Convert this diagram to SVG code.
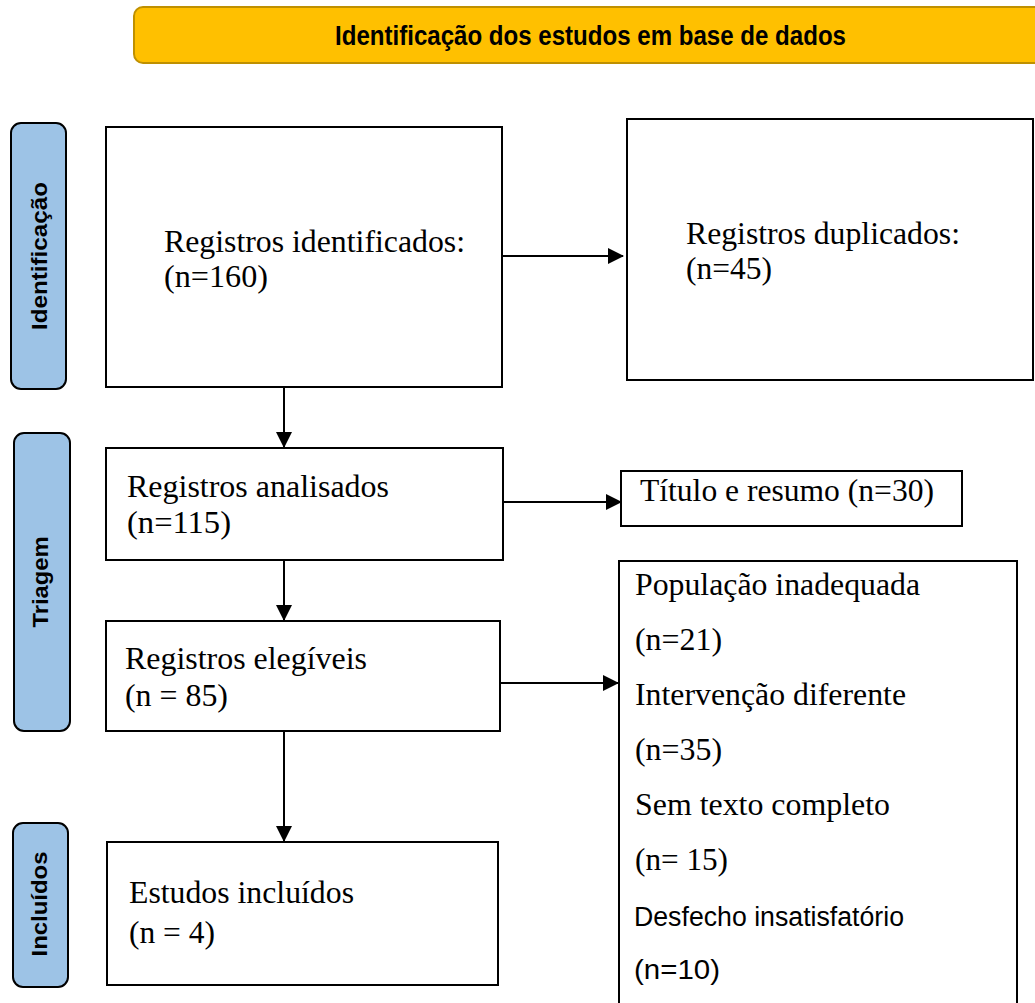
<svg xmlns="http://www.w3.org/2000/svg" width="1035" height="1003" viewBox="0 0 1035 1003">
<defs>
<marker id="ah" markerWidth="16" markerHeight="17" refX="15" refY="8.5" orient="auto" markerUnits="userSpaceOnUse" viewBox="0 0 16 17">
<path d="M0,0.5 L16,8.5 L0,16.5 Z" fill="#000"/>
</marker>
<style>
.box{fill:#fff;stroke:#000;stroke-width:2}
.side{fill:#9DC3E6;stroke:#000;stroke-width:2}
.side-t{font-family:"Liberation Sans",Arial,sans-serif;font-weight:bold;font-size:22px;fill:#000;text-anchor:middle}
.hdr{font-family:"Liberation Sans",Arial,sans-serif;font-weight:bold;font-size:28px;fill:#000}
.t{font-family:"Liberation Serif","Times New Roman",serif;font-size:31px;fill:#000}
.c{font-family:"Liberation Sans",Arial,sans-serif;font-size:27px;fill:#000}
.conn{stroke:#000;stroke-width:2;fill:none;marker-end:url(#ah)}
</style>
</defs>
<rect width="1035" height="1003" fill="#fff"/>
<g id="header">
<rect x="134" y="7" width="920" height="56" rx="9" fill="#FFC000" stroke="#BF9000" stroke-width="2"/>
<text x="335" y="45" class="hdr" textLength="511" lengthAdjust="spacingAndGlyphs">Identificação dos estudos em base de dados</text>
</g>
<g id="lbl-identificacao">
<rect x="11" y="123" width="55" height="266" rx="10" class="side"/>
<text transform="translate(47,256) rotate(-90)" class="side-t" textLength="148" lengthAdjust="spacingAndGlyphs">Identificação</text>
</g>
<g id="lbl-triagem">
<rect x="14" y="433" width="56" height="298" rx="10" class="side"/>
<text transform="translate(48,582) rotate(-90)" class="side-t" textLength="91" lengthAdjust="spacingAndGlyphs">Triagem</text>
</g>
<g id="lbl-incluidos">
<rect x="13" y="823" width="55" height="164" rx="10" class="side"/>
<text transform="translate(47,904) rotate(-90)" class="side-t" textLength="105" lengthAdjust="spacingAndGlyphs">Incluídos</text>
</g>
<g id="n-identificados">
<rect x="106" y="127" width="396" height="260" class="box"/>
<text x="164" y="252" class="t" textLength="301" lengthAdjust="spacingAndGlyphs">Registros identificados:</text>
<text x="164" y="287" class="t" textLength="104" lengthAdjust="spacingAndGlyphs">(n=160)</text>
</g>
<g id="n-duplicados">
<rect x="627" y="119" width="406" height="261" class="box"/>
<text x="686" y="244" class="t" textLength="274" lengthAdjust="spacingAndGlyphs">Registros duplicados:</text>
<text x="686" y="279" class="t" textLength="86" lengthAdjust="spacingAndGlyphs">(n=45)</text>
</g>
<g id="n-analisados">
<rect x="106" y="448" width="397" height="112" class="box"/>
<text x="127" y="497" class="t" textLength="262" lengthAdjust="spacingAndGlyphs">Registros analisados</text>
<text x="127" y="533" class="t" textLength="104" lengthAdjust="spacingAndGlyphs">(n=115)</text>
</g>
<g id="n-titulo">
<rect x="621" y="471" width="341" height="55" class="box"/>
<text x="640" y="501" class="t" textLength="294" lengthAdjust="spacingAndGlyphs">Título e resumo (n=30)</text>
</g>
<g id="n-elegiveis">
<rect x="106" y="621" width="394" height="110" class="box"/>
<text x="125" y="669" class="t" textLength="242" lengthAdjust="spacingAndGlyphs">Registros elegíveis</text>
<text x="125" y="706" class="t" textLength="103" lengthAdjust="spacingAndGlyphs">(n = 85)</text>
</g>
<g id="n-incluidos">
<rect x="107" y="842" width="391" height="143" class="box"/>
<text x="129" y="903" class="t" textLength="225" lengthAdjust="spacingAndGlyphs">Estudos incluídos</text>
<text x="129" y="943" class="t" textLength="86" lengthAdjust="spacingAndGlyphs">(n = 4)</text>
</g>
<g id="n-exclusao">
<rect x="619" y="561" width="398" height="460" class="box"/>
<text x="635" y="595" class="t" textLength="285" lengthAdjust="spacingAndGlyphs">População inadequada</text>
<text x="635" y="650" class="t" textLength="87" lengthAdjust="spacingAndGlyphs">(n=21)</text>
<text x="635" y="705" class="t" textLength="271" lengthAdjust="spacingAndGlyphs">Intervenção diferente</text>
<text x="635" y="760" class="t" textLength="87" lengthAdjust="spacingAndGlyphs">(n=35)</text>
<text x="635" y="815" class="t" textLength="255" lengthAdjust="spacingAndGlyphs">Sem texto completo</text>
<text x="635" y="870" class="t" textLength="93" lengthAdjust="spacingAndGlyphs">(n= 15)</text>
<text x="634" y="926" class="c" textLength="270" lengthAdjust="spacingAndGlyphs">Desfecho insatisfatório</text>
<text x="634" y="979" class="c" textLength="86" lengthAdjust="spacingAndGlyphs">(n=10)</text>
</g>
<g id="connectors">
<line x1="503" y1="256" x2="623" y2="256" class="conn"/>
<line x1="284" y1="388" x2="284" y2="447" class="conn"/>
<line x1="504" y1="502" x2="621" y2="502" class="conn"/>
<line x1="284" y1="561" x2="284" y2="620" class="conn"/>
<line x1="501" y1="683" x2="618" y2="683" class="conn"/>
<line x1="284" y1="732" x2="284" y2="841" class="conn"/>
</g>
</svg>
